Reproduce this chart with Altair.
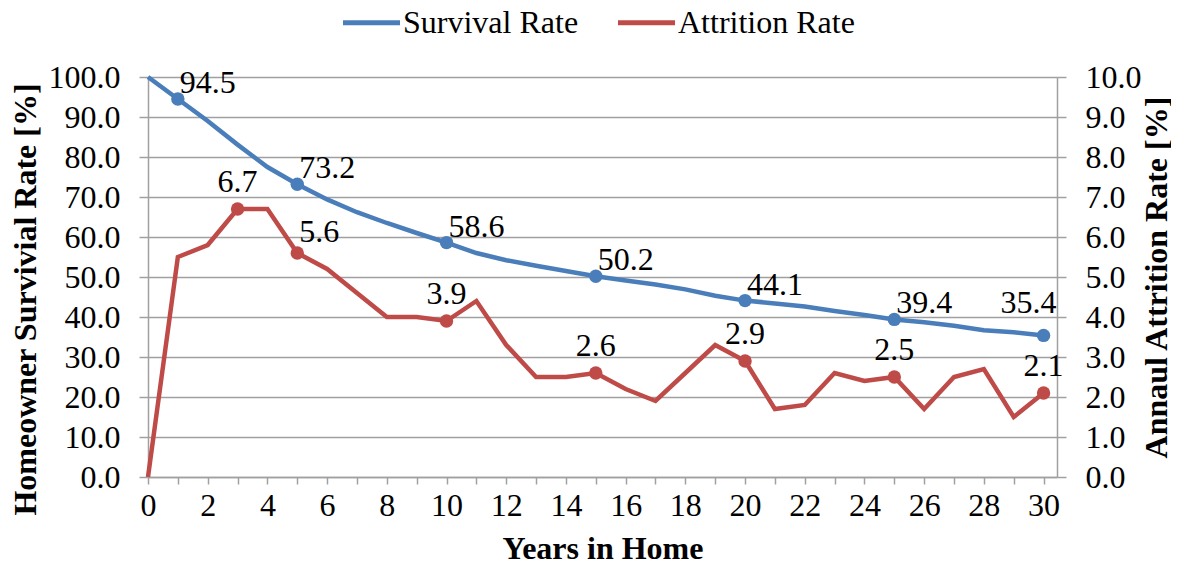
import altair as alt
import pandas as pd

years = list(range(31))
survival = [100.0, 94.5, 89.0, 83.1, 77.5, 73.2, 69.4, 66.2, 63.5, 61.0, 58.6,
            56.0, 54.2, 52.8, 51.5, 50.2, 49.1, 48.1, 46.9, 45.3, 44.1,
            43.4, 42.6, 41.5, 40.5, 39.4, 38.7, 37.8, 36.7, 36.2, 35.4]
attrition = [0.0, 5.5, 5.8, 6.7, 6.7, 5.6, 5.2, 4.6, 4.0, 4.0, 3.9,
             4.4, 3.3, 2.5, 2.5, 2.6, 2.2, 1.9, 2.6, 3.3, 2.9,
             1.7, 1.8, 2.6, 2.4, 2.5, 1.7, 2.5, 2.7, 1.5, 2.1]
survival_marked = [1, 5, 10, 15, 20, 25, 30]
attrition_marked = [3, 5, 10, 15, 20, 25, 30]
series_names = ["Survival Rate", "Attrition Rate"]
series_colors = ["#4A7EBB", "#BE4B48"]
x_ticks = list(range(31))
left_ticks = [0, 10, 20, 30, 40, 50, 60, 70, 80, 90, 100]
right_ticks = [0, 1, 2, 3, 4, 5, 6, 7, 8, 9, 10]

df = pd.DataFrame({"year": years, "survival": survival, "attrition": attrition})
df["s_mark"] = df["year"].isin(survival_marked)
df["a_mark"] = df["year"].isin(attrition_marked)

FONT = "Liberation Serif"
FS = 32
GRAY = "#A0A0A0"

base = alt.Chart(df)
x_enc = alt.X("year:Q",
              scale=alt.Scale(domain=[0, 30.45], nice=False, zero=False),
              axis=alt.Axis(values=x_ticks, title="Years in Home",
                            labelExpr="datum.value % 2 == 0 ? datum.label : ''",
                            labelOverlap=False, labelFlush=False,
                            grid=False, tickSize=7, tickColor=GRAY, domainColor=GRAY,
                            tickWidth=1.5, domainWidth=1.5,
                            labelFont=FONT, labelFontSize=FS, labelColor="black",
                            labelPadding=6,
                            titleFont=FONT, titleFontSize=FS, titleFontWeight="bold",
                            titleColor="black", titlePadding=12))

color_scale = alt.Scale(domain=series_names, range=series_colors)
legend = alt.Legend(title=None, orient="none", legendX=192, legendY=-86,
                    direction="horizontal", symbolType="stroke",
                    symbolStrokeWidth=5, symbolSize=3250, labelFont=FONT,
                    labelFontSize=FS, labelColor="black", labelOffset=0,
                    labelLimit=400, columnPadding=28, padding=0)

y_left = alt.Y("survival:Q",
               scale=alt.Scale(domain=[0, 100], nice=False),
               axis=alt.Axis(values=left_ticks, format=".1f", orient="left",
                             labelOverlap=False,
                             title="Homeowner Survivial Rate [%]",
                             grid=True, gridColor=GRAY, gridWidth=1.5,
                             tickSize=9, tickColor=GRAY, domainColor=GRAY,
                             tickWidth=1.5, domainWidth=1.5,
                             labelFont=FONT, labelFontSize=FS, labelColor="black",
                             labelPadding=19,
                             titleFont=FONT, titleFontSize=FS, titleFontWeight="bold",
                             titleColor="black", titlePadding=6, titleY=222))

y_right = alt.Y("attrition:Q",
                scale=alt.Scale(domain=[0, 10], nice=False),
                axis=alt.Axis(values=right_ticks, format=".1f", orient="right",
                              labelOverlap=False,
                              title="Annaul Attrition Rate [%]", titleAngle=270,
                              titleBaseline="middle", titleAlign="center",
                              titleX=99, titleY=200,
                              grid=False, tickSize=9, tickColor=GRAY, domainColor=GRAY,
                              tickWidth=1.5, domainWidth=1.5,
                              labelFont=FONT, labelFontSize=FS, labelColor="black",
                              labelPadding=19,
                              titleFont=FONT, titleFontSize=FS, titleFontWeight="bold",
                              titleColor="black"))

s_line = base.transform_calculate(series="'Survival Rate'").mark_line(strokeWidth=4.5).encode(
    x=x_enc, y=y_left,
    color=alt.Color("series:N", scale=color_scale, legend=legend))
s_pts = base.transform_filter(alt.datum.s_mark).mark_circle(
    size=180, opacity=1, color=series_colors[0]).encode(x=x_enc, y=y_left)
s_lab1 = base.transform_filter("datum.s_mark && datum.year < 30").mark_text(
    align="left", baseline="alphabetic", dx=2, dy=-6, font=FONT, fontSize=FS,
    color="black").encode(x=x_enc, y=y_left, text=alt.Text("survival:Q", format=".1f"))
s_lab2 = base.transform_filter("datum.year == 30").mark_text(
    align="right", baseline="alphabetic", dx=13, dy=-22, font=FONT, fontSize=FS,
    color="black").encode(x=x_enc, y=y_left, text=alt.Text("survival:Q", format=".1f"))
left_layer = alt.layer(s_line, s_pts, s_lab1, s_lab2)

a_line = base.transform_calculate(series="'Attrition Rate'").mark_line(strokeWidth=4.5).encode(
    x=x_enc, y=y_right,
    color=alt.Color("series:N", scale=color_scale, legend=legend))
a_pts = base.transform_filter(alt.datum.a_mark).mark_circle(
    size=180, opacity=1, color=series_colors[1]).encode(x=x_enc, y=y_right)
a_lab1 = base.transform_filter("datum.a_mark && datum.year != 5").mark_text(
    align="center", baseline="alphabetic", dy=-17, font=FONT, fontSize=FS,
    color="black").encode(x=x_enc, y=y_right, text=alt.Text("attrition:Q", format=".1f"))
a_lab2 = base.transform_filter("datum.year == 5").mark_text(
    align="left", baseline="alphabetic", dx=2, dy=-11, font=FONT, fontSize=FS,
    color="black").encode(x=x_enc, y=y_right, text=alt.Text("attrition:Q", format=".1f"))
right_layer = alt.layer(a_line, a_pts, a_lab1, a_lab2)

chart = alt.layer(left_layer, right_layer).resolve_scale(y="independent").properties(
    width=909, height=400,
    autosize=alt.AutoSizeParams(type="none"),
    padding={"left": 140, "top": 69, "right": 114, "bottom": 87},
).configure(background="white", font=FONT).configure_view(stroke=None).configure_legend(
    labelFont=FONT, labelFontSize=FS, labelLimit=400
).configure_text(font=FONT, fontSize=FS)

chart.save("out.html", embed_options={"renderer": "svg", "actions": False})
